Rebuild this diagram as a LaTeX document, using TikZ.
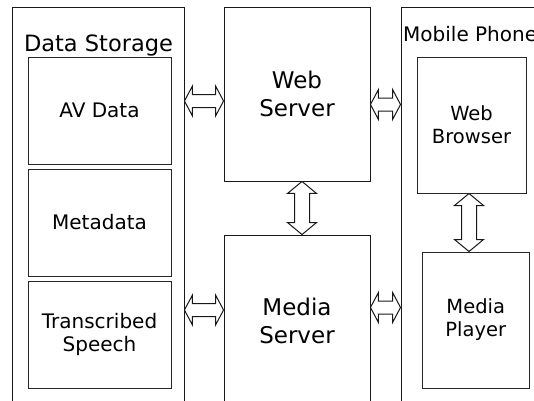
\documentclass[tikz,border=0pt]{standalone}
\usepackage{fontspec}
\setmainfont{DejaVu Sans}
\usetikzlibrary{calc}

\tikzset{
  box/.style={draw=black!85, line width=1pt, fill=white, inner sep=0pt, align=center},
  frame/.style={box, draw=black!90, line width=0.9pt},
  servertext/.style={font=\fontsize{23}{28}\selectfont},
  datatext/.style={font=\fontsize{20}{23.5}\selectfont},
  clienttext/.style={font=\fontsize{19.5}{23}\selectfont},
  % hollow double-headed block arrow drawn between two points
  fatarrow/.style={draw=black!90, line width=1pt, fill=white,
    to path={let \p1=(\tikztostart), \p2=(\tikztotarget),
      \n1={veclen(\x2-\x1,\y2-\y1)}, \n2={(\x2-\x1)/\n1}, \n3={(\y2-\y1)/\n1} in
      (\p1)
      -- ({\x1+\fhl*\n2-\fhw*\n3}, {\y1+\fhl*\n3+\fhw*\n2})
      -- ({\x1+\fhl*\n2-\fsw*\n3}, {\y1+\fhl*\n3+\fsw*\n2})
      -- ({\x2-\fhl*\n2-\fsw*\n3}, {\y2-\fhl*\n3+\fsw*\n2})
      -- ({\x2-\fhl*\n2-\fhw*\n3}, {\y2-\fhl*\n3+\fhw*\n2})
      -- (\p2)
      -- ({\x2-\fhl*\n2+\fhw*\n3}, {\y2-\fhl*\n3-\fhw*\n2})
      -- ({\x2-\fhl*\n2+\fsw*\n3}, {\y2-\fhl*\n3-\fsw*\n2})
      -- ({\x1+\fhl*\n2+\fsw*\n3}, {\y1+\fhl*\n3-\fsw*\n2})
      -- ({\x1+\fhl*\n2+\fhw*\n3}, {\y1+\fhl*\n3-\fhw*\n2})
      -- cycle}},
  harrow/.style={fatarrow, /utils/exec={\def\fhl{8pt}\def\fhw{15pt}\def\fsw{6.5pt}}},
  varrow/.style={fatarrow, /utils/exec={\def\fhl{12pt}\def\fhw{14.5pt}\def\fsw{7.5pt}}},
}

\begin{document}
\begin{tikzpicture}[x=1pt,y=-1pt]
\useasboundingbox[fill=white] (0,0) rectangle (534,400);

% outer containers
\node[frame, minimum width=171.5pt, minimum height=420pt] (ds) at (98.25,217) {};
\node[frame, minimum width=160pt, minimum height=420pt] (mob) at (481,217) {};
\node[anchor=base, font=\fontsize{22.5}{27}\selectfont] (dstitle) at (98.5,51) {Data Storage};
\node[anchor=base west, inner xsep=0pt, font=\fontsize{20}{24}\selectfont] (mobtitle) at (403,41) {Mobile Phone};

% data stores
\node[box, datatext, minimum width=143pt, minimum height=107pt] (av) at (99.5,110.5) {AV Data};
\node[box, datatext, minimum width=143pt, minimum height=107pt] (meta) at (99.5,222.5) {Metadata};
\node[box, datatext, minimum width=143pt, minimum height=107pt] (ts) at (99.5,334.5) {Transcribed\\Speech};

% servers
\node[frame, servertext, minimum width=146pt, minimum height=174pt] (ws) at (297,94) {Web\\Server};
\node[frame, servertext, minimum width=146pt, minimum height=192pt] (ms) at (297,331) {};
\node[servertext, align=center] (mstext) at (297,320.5) {Media\\Server};

% phone applications
\node[box, clienttext, minimum width=109pt, minimum height=136pt] (wb) at (471.5,125) {Web\\Browser};
\node[box, clienttext, minimum width=107.5pt, minimum height=136pt] (mpl) at (475.75,320) {Media\\Player};

% connections
\draw[harrow] (ds.east |- 0,101) to (ws.west |- 0,101);
\draw[harrow] (ws.east |- 0,104.5) to (mob.west |- 0,104.5);
\draw[harrow] (ds.east |- 0,310) to (ms.west |- 0,310);
\draw[harrow] (ms.east |- 0,307.5) to (mob.west |- 0,307.5);
\draw[varrow] (ws.south -| 302,0) to (ms.north -| 302,0);
\draw[varrow] (wb.south -| 469,0) to (mpl.north -| 469,0);
\end{tikzpicture}
\end{document}
